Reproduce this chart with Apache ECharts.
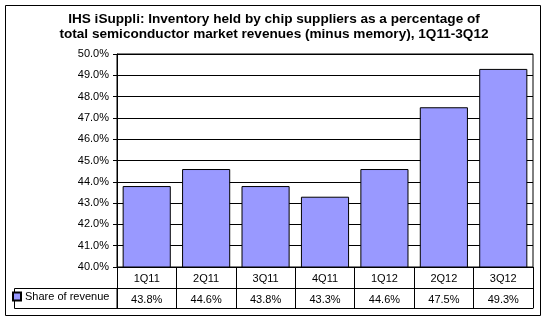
<!DOCTYPE html>
<html>
<head>
<meta charset="utf-8">
<script src="https://cdn.jsdelivr.net/npm/echarts@6/dist/echarts.min.js"></script>
<style>
  html, body { margin: 0; padding: 0; background: #fff; }
  #chart { width: 548px; height: 322px; }
</style>
</head>
<body>
<div id="chart"></div>
<script>
// Quarterly inventory share, 1Q11 through 3Q12
const quarters = ['1Q11', '2Q11', '3Q11', '4Q11', '1Q12', '2Q12', '3Q12'];
const shareOfRevenue = [43.8, 44.6, 43.8, 43.3, 44.6, 47.5, 49.3];
const seriesName = 'Share of revenue';
const titleLines = [
  'IHS iSuppli: Inventory held by chip suppliers as a percentage of',
  'total semiconductor market revenues (minus memory), 1Q11-3Q12'
];

const FONT = 'Arial, "Liberation Sans", sans-serif';
const chart = echarts.init(document.getElementById('chart'), null, { renderer: 'canvas' });

const pct = v => v.toFixed(1) + '%';

chart.setOption({
  animation: false,
  backgroundColor: '#ffffff',
  title: {
    text: titleLines.join('\n'),
    left: 'center',
    top: 12,
    padding: 0,
    textStyle: {
      fontFamily: FONT, fontSize: 13.6, fontWeight: 'bold', color: '#000',
      lineHeight: 15
    }
  },
  legend: {
    data: [seriesName],
    left: 12,
    top: 291,
    itemWidth: 8,
    itemHeight: 8,
    itemGap: 4,
    icon: 'rect',
    padding: [0, 0, 0, 0],
    textStyle: { fontFamily: FONT, fontSize: 11, color: '#000', padding: [0, 0, 0, -1] }
  },
  grid: {
    left: 117, right: 15, top: 54, bottom: 55,
    show: true, borderColor: '#000', borderWidth: 1, backgroundColor: 'transparent'
  },
  xAxis: [
    {
      type: 'category',
      data: quarters,
      position: 'bottom',
      axisLine: { show: true, lineStyle: { color: '#000', width: 1 } },
      axisTick: { show: true, length: 41, inside: false, lineStyle: { color: '#000' } },
      axisLabel: { fontFamily: FONT, fontSize: 11, color: '#000', margin: 6 },
      splitLine: { show: false }
    },
    {
      type: 'category',
      data: quarters,
      position: 'bottom',
      offset: 21,
      axisLine: { show: true, lineStyle: { color: '#000', width: 1 } },
      axisTick: { show: false },
      axisLabel: {
        fontFamily: FONT, fontSize: 11, color: '#000', margin: 6,
        formatter: (v, i) => pct(shareOfRevenue[i])
      }
    },
    {
      type: 'category',
      data: quarters,
      position: 'bottom',
      offset: 41,
      axisLine: { show: true, lineStyle: { color: '#000', width: 1 } },
      axisTick: { show: false },
      axisLabel: { show: false }
    }
  ],
  yAxis: {
    type: 'value',
    min: 40, max: 50, interval: 1,
    axisLine: { show: true, lineStyle: { color: '#000' } },
    axisTick: { show: true, length: 4, lineStyle: { color: '#000' } },
    axisLabel: {
      fontFamily: FONT, fontSize: 11, color: '#000', margin: 8,
      formatter: v => pct(v)
    },
    splitLine: { show: true, lineStyle: { color: '#000', width: 1 } }
  },
  series: [{
    name: seriesName,
    type: 'bar',
    data: shareOfRevenue,
    xAxisIndex: 0,
    barCategoryGap: '19%',
    itemStyle: { color: '#9999ff', borderColor: '#000', borderWidth: 1 }
  }],
  graphic: [
    // outer chart frame
    {
      type: 'rect', silent: true, z: -1,
      shape: { x: 5.5, y: 5.5, width: 535, height: 310 },
      style: { fill: 'none', stroke: '#000', lineWidth: 1 }
    },
    // legend cell of the data table
    {
      type: 'rect', silent: true,
      shape: { x: 14.5, y: 288.5, width: 102.5, height: 20 },
      style: { fill: 'none', stroke: '#000', lineWidth: 1 }
    }
  ]
});
</script>
</body>
</html>
